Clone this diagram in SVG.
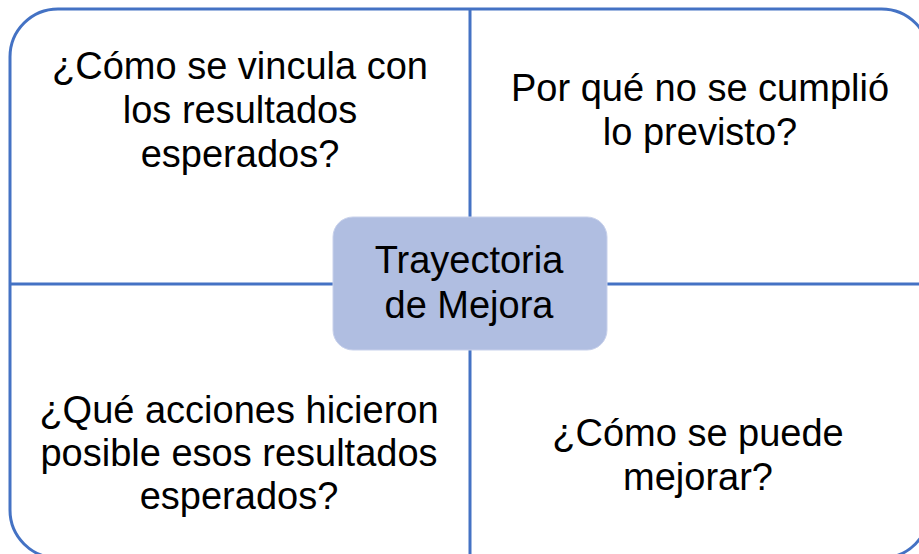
<svg xmlns="http://www.w3.org/2000/svg" width="919" height="554" viewBox="0 0 919 554">
  <style>
    .frame { fill: #ffffff; stroke: #4472C4; stroke-width: 3; }
    .line { stroke: #4472C4; stroke-width: 3; fill: none; }
    .hub { fill: #B0BEE1; stroke: #C8D1EB; stroke-width: 1; }
    .t { font-family: "Liberation Sans", Arial, sans-serif; font-size: 38px; fill: #000000; text-anchor: middle; }
  </style>
  <rect width="919" height="554" fill="#ffffff"/>
  <g id="frame">
    <rect class="frame" x="10" y="9" width="919.5" height="549" rx="48" ry="48"/>
  </g>
  <g id="connectors">
    <line class="line" x1="470" y1="9" x2="470" y2="558"/>
    <line class="line" x1="10" y1="284" x2="929" y2="284"/>
  </g>
  <g id="q1">
    <text class="t" x="240" y="79">¿Cómo se vincula con</text>
    <text class="t" x="240" y="123">los resultados</text>
    <text class="t" x="240" y="167">esperados?</text>
  </g>
  <g id="q2">
    <text class="t" x="700" y="101">Por qué no se cumplió</text>
    <text class="t" x="700" y="145">lo previsto?</text>
  </g>
  <g id="q3">
    <text class="t" x="239" y="423">¿Qué acciones hicieron</text>
    <text class="t" x="239" y="466">posible esos resultados</text>
    <text class="t" x="239" y="509">esperados?</text>
  </g>
  <g id="q4">
    <text class="t" x="698" y="446">¿Cómo se puede</text>
    <text class="t" x="698" y="490">mejorar?</text>
  </g>
  <g id="center">
    <rect class="hub" x="333" y="217" width="274" height="133" rx="20" ry="20"/>
    <text class="t" x="469" y="273">Trayectoria</text>
    <text class="t" x="469" y="318">de Mejora</text>
  </g>
</svg>
